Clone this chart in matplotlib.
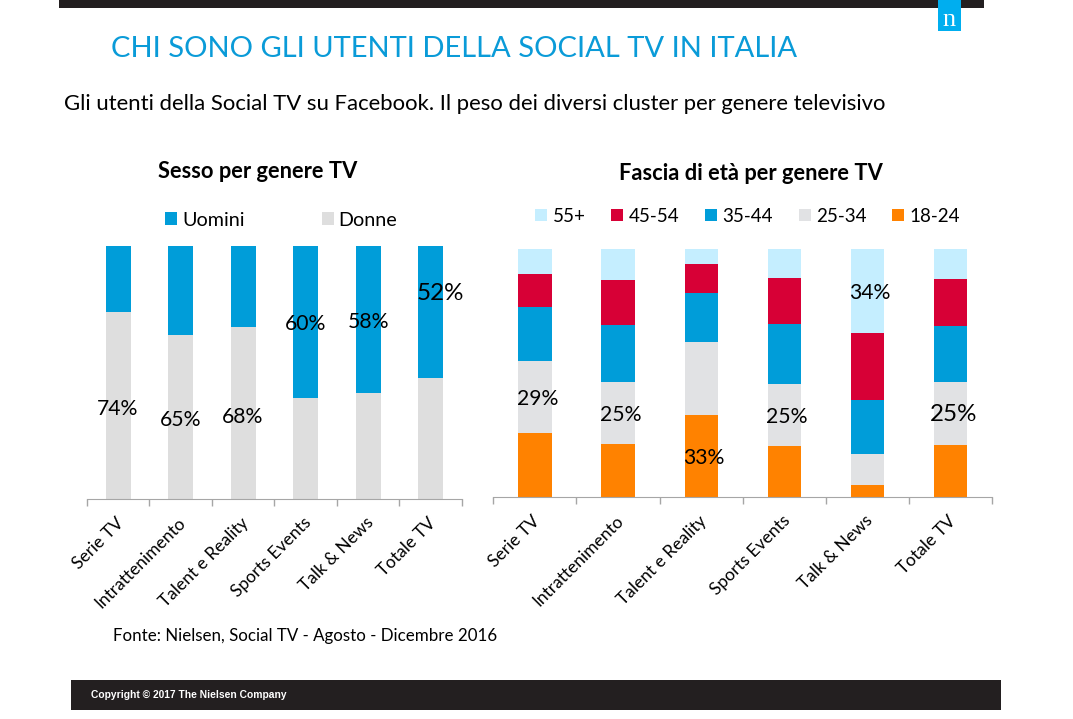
#!/usr/bin/env python
"""Nielsen slide: Social TV users on Facebook by gender and age per TV genre."""

import matplotlib
matplotlib.use("Agg")
import matplotlib.pyplot as plt
import numpy as np

plt.rcParams["font.family"] = ["Lato", "DejaVu Sans"]

WIDTH, HEIGHT = 1073, 719

GENRES = ["Serie TV", "Intrattenimento", "Talent e Reality", "Sports Events", "Talk & News", "Totale TV"]

# gender split, percent
DONNE = [74, 65, 68, 40, 42, 48]
UOMINI = [26, 35, 32, 60, 58, 52]
GENDER_LABELS = ["74%", "65%", "68%", "60%", "58%", "52%"]

# age split, percent, bottom to top
AGE_18_24 = [26, 21.5, 33.2, 20.7, 5, 21]
AGE_25_34 = [29, 25, 29.4, 25, 12.4, 25.4]
AGE_35_44 = [21.8, 23, 19.7, 24.2, 21.8, 22.6]
AGE_45_54 = [13.3, 18, 11.7, 18.5, 27, 18.9]
AGE_55_UP = [10, 12.5, 6, 11.7, 33.8, 12.1]
AGE_LABELS = ["29%", "25%", "33%", "25%", "34%", "25%"]

BLUE = "#009DD9"
GREY = "#DEDEDE"
GREY_AGE = "#E1E2E4"
ORANGE = "#FF8200"
RED = "#D70036"
PALE = "#C5EEFF"
DARK = "#231F20"


def px_axes(fig, left, top, right, bottom):
    """Add axes placed by pixel edges, y counted from the top."""
    return fig.add_axes([left / WIDTH, 1 - bottom / HEIGHT, (right - left) / WIDTH, (bottom - top) / HEIGHT])


def style_axis(ax):
    ax.set_xlim(-0.5, 5.5)
    ax.set_ylim(0, 100)
    ax.set_yticks([])
    for side in ["top", "left", "right"]:
        ax.spines[side].set_visible(False)
    ax.spines["bottom"].set_color("#A6A6A6")
    ax.set_xticks(np.arange(-0.5, 6, 1))
    ax.set_xticklabels([])
    ax.tick_params(axis="x", length=5, width=1, color="#A6A6A6")
    ax.patch.set_alpha(0)


def genre_labels(ax):
    for i, name in enumerate(GENRES):
        ax.annotate(
            name, (i, 0), xytext=(-2, -11), textcoords="offset points", xycoords=("data", "axes fraction"),
            rotation=45, ha="right", va="top", rotation_mode="anchor", fontsize=12.5, color="black",
        )


fig = plt.figure(figsize=(WIDTH / 100, HEIGHT / 100), dpi=100, facecolor="white")

# slide furniture, in pixel coordinates
bg = fig.add_axes([0, 0, 1, 1])
bg.set_xlim(0, WIDTH)
bg.set_ylim(HEIGHT, 0)
bg.axis("off")
bg.add_patch(plt.Rectangle((59, 0), 925, 8, color=DARK, lw=0))
bg.add_patch(plt.Rectangle((938, 0), 23, 31, color="#00AEEF", lw=0))
bg.text(949.5, 20, "n", color="white", fontsize=19, family="Liberation Serif", ha="center", va="center")
bg.add_patch(plt.Rectangle((71, 680), 930, 30, color=DARK, lw=0))
bg.text(91, 694.5, "Copyright © 2017 The Nielsen Company", color="white", fontsize=7.4, fontweight="bold",
        family="Liberation Sans", va="center")
bg.text(111, 49, "CHI SONO GLI UTENTI DELLA SOCIAL TV IN ITALIA", color="#0A9BD8", fontsize=21, va="center")
bg.text(64, 104, "Gli utenti della Social TV su Facebook. Il peso dei diversi cluster per genere televisivo",
        color="black", fontsize=15.9, va="center")
bg.text(257.5, 172, "Sesso per genere TV", color="black", fontsize=15.75, fontweight="bold", ha="center", va="center")
bg.text(750.5, 174, "Fascia di età per genere TV", color="black", fontsize=15.75, fontweight="bold", ha="center", va="center")
bg.text(113, 636, "Fonte: Nielsen, Social TV - Agosto - Dicembre 2016", color="black", fontsize=12.2, va="center")

# left chart
ax1 = px_axes(fig, 86.8, 246, 461.8, 499.3)
style_axis(ax1)
x = np.arange(len(GENRES))
b_d = ax1.bar(x, DONNE, width=0.4, color=GREY, label="Donne")
b_u = ax1.bar(x, UOMINI, width=0.4, bottom=DONNE, color=BLUE, label="Uomini")
genre_labels(ax1)
gender_label_y = [35.6, 31.3, 32.3, 69.2, 69.8, 81.4]
for i, text in enumerate(GENDER_LABELS):
    last = i == len(GENDER_LABELS) - 1
    ax1.text(i + (0.16 if last else 0.0), gender_label_y[i], text, ha="center", va="center",
             fontsize=17.4 if last else 15.2, color="black")
fig.legend(
    handles=[b_u, b_d], loc="center left", bbox_to_anchor=(165 / WIDTH, 1 - 220 / HEIGHT), ncol=2, frameon=False,
    fontsize=14.2, handlelength=0.61, handleheight=0.61, handletextpad=0.26, columnspacing=3.9,
    borderpad=0, borderaxespad=0,
)

# right chart
ax2 = px_axes(fig, 493.3, 249, 992.3, 497.3)
style_axis(ax2)
bottom = np.zeros(len(GENRES))
age_bars = []
for values, color, name in [
    (AGE_18_24, ORANGE, "18-24"),
    (AGE_25_34, GREY_AGE, "25-34"),
    (AGE_35_44, BLUE, "35-44"),
    (AGE_45_54, RED, "45-54"),
    (AGE_55_UP, PALE, "55+"),
]:
    age_bars.append(ax2.bar(x, values, width=0.4, bottom=bottom, color=color, label=name))
    bottom += np.array(values)
genre_labels(ax2)
age_label_y = [39.5, 33, 16, 32.5, 82.2, 33.2]
for i, text in enumerate(AGE_LABELS):
    last = i == len(AGE_LABELS) - 1
    ax2.text(i + 0.03, age_label_y[i], text, ha="center", va="center",
             fontsize=17.4 if last else 15.2, color="black")
fig.legend(
    handles=age_bars[::-1], loc="center left", bbox_to_anchor=(535 / WIDTH, 1 - 216 / HEIGHT), ncol=5, frameon=False,
    fontsize=13.5, handlelength=0.64, handleheight=0.64, handletextpad=0.3, columnspacing=1.36,
    borderpad=0, borderaxespad=0,
)

fig.savefig("out.png", dpi=100)
plt.close(fig)
